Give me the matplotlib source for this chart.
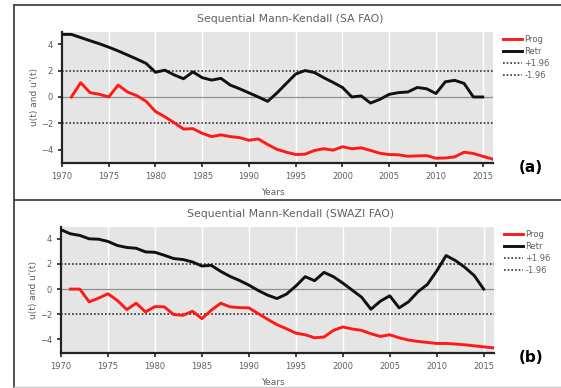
import numpy as np
import matplotlib.pyplot as plt
from matplotlib.lines import Line2D

# Sequential Mann-Kendall statistics, (a) SA FAO and (b) SWAZI FAO
years_prog = list(range(1971, 2017))
years_retr = list(range(1970, 2016))

sa_prog = [0.0, 1.08, 0.33, 0.2, 0.0, 0.9, 0.38, 0.1, -0.33, -1.1,
           -1.5, -1.95, -2.43, -2.4, -2.75, -3.0, -2.87, -3.0, -3.08, -3.28,
           -3.18, -3.6, -3.97, -4.18, -4.36, -4.33, -4.05, -3.92, -4.03, -3.77,
           -3.92, -3.85, -4.05, -4.26, -4.36, -4.38, -4.49, -4.46, -4.44, -4.64,
           -4.62, -4.54, -4.18, -4.28, -4.49, -4.69]
sa_retr = [4.74, 4.74, 4.5, 4.26, 4.03, 3.77, 3.49, 3.18, 2.87, 2.54,
           1.87, 2.03, 1.67, 1.38, 1.9, 1.46, 1.28, 1.41, 0.9, 0.62,
           0.31, 0.0, -0.33, 0.31, 1.03, 1.74, 2.0, 1.85, 1.46, 1.1,
           0.72, 0.0, 0.08, -0.46, -0.18, 0.2, 0.33, 0.38, 0.72, 0.62,
           0.26, 1.15, 1.26, 1.03, 0.0, 0.0]

sw_prog = [0.0, 0.0, -1.01, -0.72, -0.37, -0.9, -1.63, -1.12, -1.81, -1.39,
           -1.41, -2.03, -2.08, -1.76, -2.35, -1.68, -1.12, -1.41, -1.47, -1.49,
           -1.95, -2.4, -2.83, -3.15, -3.5, -3.63, -3.87, -3.81, -3.28, -3.01,
           -3.17, -3.28, -3.55, -3.76, -3.63, -3.87, -4.05, -4.16, -4.24, -4.32,
           -4.32, -4.37, -4.43, -4.51, -4.59, -4.67]
sw_retr = [4.72, 4.4, 4.27, 4.0, 3.97, 3.79, 3.47, 3.31, 3.25, 2.96,
           2.93, 2.69, 2.43, 2.35, 2.16, 1.84, 1.89, 1.41, 1.01, 0.69,
           0.32, -0.11, -0.48, -0.75, -0.4, 0.24, 0.99, 0.67, 1.33, 0.99,
           0.48, -0.08, -0.64, -1.6, -0.96, -0.53, -1.49, -1.01, -0.21, 0.37,
           1.44, 2.67, 2.27, 1.73, 1.07, 0.0]

panels = [
    ("Sequential Mann-Kendall (SA FAO)", sa_prog, sa_retr, "(a)"),
    ("Sequential Mann-Kendall (SWAZI FAO)", sw_prog, sw_retr, "(b)"),
]

W, H = 561, 388
fig = plt.figure(figsize=(W / 100, H / 100), dpi=100)

def fx(px):
    return px / W

def fy(py):
    return 1 - py / H

# axes boxes in pixels: left, top, right, bottom
boxes = [(62, 32, 493, 163), (61, 227, 494, 353)]
ylims = [(-5.0, 4.92), (-5.08, 4.94)]
gray_txt = "#606060"

for (title, prog, retr, tag), (l, t, r, b), yl in zip(panels, boxes, ylims):
    ax = fig.add_axes([fx(l), fy(b), fx(r - l), (b - t) / H])
    ax.set_facecolor("#e5e5e5")
    ax.set_xlim(1970, 2016.1)
    ax.set_ylim(*yl)
    ax.set_xticks(range(1970, 2016, 5))
    ax.set_yticks([-4, -2, 0, 2, 4])
    ax.set_yticklabels(["\u22124", "\u22122", "0", "2", "4"])
    ax.grid(axis="x", color="white", lw=1.0)
    ax.set_axisbelow(True)
    for s in ["top", "right"]:
        ax.spines[s].set_visible(False)
    for s in ["left", "bottom"]:
        ax.spines[s].set_linewidth(1.6)
        ax.spines[s].set_color("#222222")
    ax.tick_params(labelsize=6, colors="#222222", labelcolor=gray_txt, length=3, width=1.2)

    ax.axhline(0, color="#909090", lw=0.9, zorder=1)
    ax.plot(years_prog, prog, color="#ff1a1a", lw=2.1, label="Prog", zorder=3)
    ax.plot(years_retr, retr, color="#111111", lw=2.1, label="Retr", zorder=3)
    ax.axhline(1.96, color="#333333", lw=1.2, ls=(0, (1, 1.2)), label="+1.96", zorder=2)
    ax.axhline(-1.96, color="#333333", lw=1.2, ls=(0, (1, 1.2)), label="-1.96", zorder=2)

    ax.set_title(title, fontsize=7.8, color=gray_txt, pad=7, x=0.53)
    ax.set_xlabel("Years", fontsize=6.5, color=gray_txt, labelpad=5, x=0.49)
    ax.set_ylabel("u(t) and u'(t)", fontsize=6.5, color=gray_txt, labelpad=1)

    leg = ax.legend(loc="upper left", bbox_to_anchor=(1.015, 1.0), frameon=False,
                    fontsize=6, handlelength=2.3, handletextpad=0.3,
                    labelspacing=0.35, borderaxespad=0)
    for txt in leg.get_texts():
        txt.set_color(gray_txt)

    fig.text(fx(531), fy(b + 4), tag, fontsize=11, fontweight="bold",
             ha="center", va="center")

# frame around the two panels
frame = dict(color="#444444", lw=1.3, transform=fig.transFigure)
fig.add_artist(Line2D([fx(14), fx(14)], [fy(5), fy(388)], **frame))
fig.add_artist(Line2D([fx(14), 1], [fy(5), fy(5)], **frame))
fig.add_artist(Line2D([fx(14), 1], [fy(200), fy(200)], **frame))
fig.add_artist(Line2D([fx(14), 1], [fy(386.5), fy(386.5)], color="#cccccc",
                      lw=1.0, transform=fig.transFigure))

fig.savefig("out.png", dpi=100)
